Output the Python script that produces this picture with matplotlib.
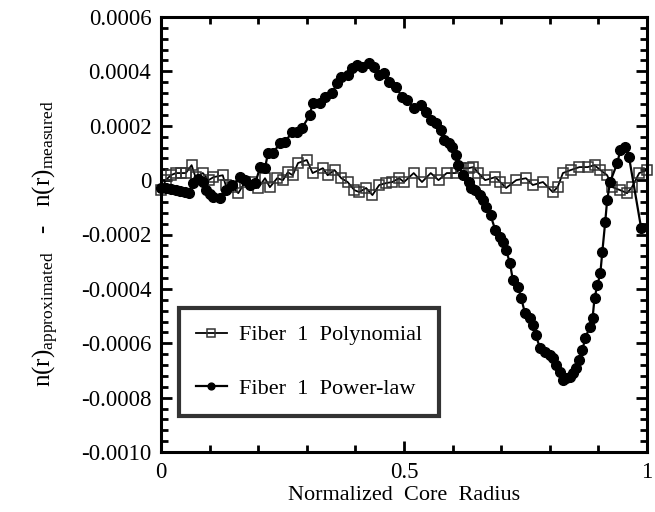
import matplotlib
matplotlib.use("Agg")
import matplotlib.pyplot as plt
from matplotlib.ticker import FixedLocator, FixedFormatter, MultipleLocator
import numpy as np

# ---------------- data ----------------
poly_x = [0.000, 0.010, 0.020, 0.031, 0.041, 0.051, 0.063, 0.071, 0.086, 0.098,
          0.108, 0.127, 0.133, 0.147, 0.159, 0.173, 0.188, 0.200, 0.214, 0.224,
          0.239, 0.251, 0.261, 0.271, 0.282, 0.300, 0.312, 0.333, 0.343, 0.357,
          0.371, 0.384, 0.398, 0.408, 0.422, 0.435, 0.449, 0.463, 0.476, 0.490,
          0.500, 0.520, 0.537, 0.555, 0.571, 0.588, 0.606, 0.618, 0.633, 0.643,
          0.653, 0.667, 0.688, 0.698, 0.710, 0.731, 0.751, 0.765, 0.786, 0.806,
          0.816, 0.827, 0.843, 0.861, 0.878, 0.892, 0.904, 0.918, 0.929, 0.945,
          0.959, 0.969, 0.984, 1.000]
poly_y = [-0.37, 0.00, 0.18, 0.26, 0.26, 0.26, 0.55, 0.11, 0.26, 0.00,
          0.11, 0.18, -0.18, -0.26, -0.48, -0.07, -0.07, -0.29, 0.07, -0.26,
          0.07, 0.00, 0.29, 0.18, 0.63, 0.74, 0.26, 0.44, 0.18, 0.37,
          0.07, -0.07, -0.37, -0.44, -0.29, -0.55, -0.18, -0.11, -0.07, 0.07,
          -0.07, 0.26, -0.07, 0.26, 0.00, 0.26, 0.26, 0.44, 0.44, 0.48,
          0.26, 0.00, 0.11, -0.07, -0.29, 0.00, 0.07, -0.18, -0.07, -0.44,
          -0.26, 0.26, 0.37, 0.48, 0.48, 0.55, 0.37, 0.18, -0.26, -0.37,
          -0.48, -0.26, 0.26, 0.37]   # units of 1e-4

power_x = [0.000, 0.010, 0.020, 0.030, 0.040, 0.050, 0.057, 0.065, 0.076, 0.086,
           0.092, 0.100, 0.108, 0.122, 0.133, 0.147, 0.163, 0.173, 0.184, 0.194,
           0.204, 0.214, 0.220, 0.230, 0.245, 0.255, 0.270, 0.280, 0.290, 0.306,
           0.312, 0.327, 0.337, 0.351, 0.363, 0.371, 0.384, 0.394, 0.404, 0.414,
           0.429, 0.439, 0.449, 0.459, 0.469, 0.484, 0.496, 0.506, 0.520, 0.535,
           0.545, 0.555, 0.565, 0.576, 0.582, 0.592, 0.598, 0.606, 0.612, 0.622,
           0.633, 0.637, 0.647, 0.657, 0.663, 0.669, 0.678, 0.688, 0.698, 0.704,
           0.710, 0.718, 0.724, 0.735, 0.741, 0.749, 0.759, 0.765, 0.771, 0.780,
           0.790, 0.800, 0.806, 0.812, 0.820, 0.827, 0.833, 0.841, 0.847, 0.853,
           0.861, 0.867, 0.873, 0.882, 0.888, 0.892, 0.898, 0.904, 0.908, 0.914,
           0.918, 0.924, 0.939, 0.945, 0.955, 0.963, 0.988]
power_y = [-0.29, -0.30, -0.33, -0.36, -0.40, -0.44, -0.48, -0.11, 0.05, -0.07,
           -0.37, -0.50, -0.63, -0.66, -0.37, -0.18, 0.11, 0.00, -0.18, -0.11,
           0.48, 0.44, 0.99, 0.99, 1.36, 1.40, 1.77, 1.77, 1.91, 2.39,
           2.83, 2.83, 3.05, 3.20, 3.57, 3.79, 3.86, 4.12, 4.23, 4.16,
           4.30, 4.16, 3.86, 3.94, 3.60, 3.42, 3.05, 2.94, 2.65, 2.76,
           2.50, 2.21, 2.10, 1.84, 1.47, 1.36, 1.21, 0.92, 0.55, 0.18,
           -0.07, -0.29, -0.37, -0.55, -0.74, -0.99, -1.29, -1.84, -2.10, -2.28,
           -2.57, -3.05, -3.68, -3.94, -4.34, -4.89, -5.08, -5.33, -5.70, -6.18,
           -6.33, -6.44, -6.55, -6.80, -7.06, -7.36, -7.28, -7.25, -7.10, -6.91,
           -6.62, -6.25, -5.81, -5.41, -5.08, -4.34, -3.86, -3.42, -2.65, -1.54,
           -0.74, -0.07, 0.63, 1.10, 1.21, 0.85, -1.77]   # units of 1e-4

series_labels = ["Fiber  1  Polynomial", "Fiber  1  Power-law"]
x_ticks = [0, 0.5, 1]
x_tick_labels = ["0", "0.5", "1"]
y_ticks = [0.0006, 0.0004, 0.0002, 0.0, -0.0002, -0.0004, -0.0006, -0.0008, -0.0010]
y_tick_labels = ["0.0006", "0.0004", "0.0002", "0", "-0.0002", "-0.0004",
                 "-0.0006", "-0.0008", "-0.0010"]
x_label = "Normalized  Core  Radius"
y_label = r"n(r)$_{\mathrm{approximated}}$   -   n(r)$_{\mathrm{measured}}$"

# ---------------- style ----------------
plt.rcParams["font.family"] = ["Liberation Serif", "DejaVu Serif"]
plt.rcParams["mathtext.fontset"] = "custom"
plt.rcParams["mathtext.rm"] = "Liberation Serif"
plt.rcParams["mathtext.it"] = "Liberation Serif:italic"

fig = plt.figure(figsize=(6.55, 5.12), dpi=100)
ax = fig.add_axes([161 / 655, 1 - 452 / 512, 486 / 655, 435 / 512])

scale = 1e-4
ax.plot(poly_x, np.array(poly_y) * scale, color="black", lw=1.3,
        marker="s", ms=7.5, mfc="none", mec="#333333", mew=1.1,
        label=series_labels[0], zorder=2, clip_on=False)
ax.plot(power_x, np.array(power_y) * scale, color="black", lw=1.6,
        marker="o", ms=7, mfc="black", mec="black",
        label=series_labels[1], zorder=3, clip_on=False)

ax.set_xlim(0, 1)
ax.set_ylim(-0.0010, 0.0006)

ax.xaxis.set_major_locator(FixedLocator(x_ticks))
ax.xaxis.set_major_formatter(FixedFormatter(x_tick_labels))
ax.xaxis.set_minor_locator(MultipleLocator(0.1))
ax.yaxis.set_major_locator(FixedLocator(y_ticks))
ax.yaxis.set_major_formatter(FixedFormatter(y_tick_labels))
ax.yaxis.set_minor_locator(MultipleLocator(0.00004))

ax.tick_params(which="both", direction="in", top=True, right=True,
               width=2, labelsize=16.5, pad=7)
ax.tick_params(which="major", length=8)
ax.tick_params(which="minor", length=5)
for s in ax.spines.values():
    s.set_linewidth(2.2)

ax.set_xlabel(x_label, fontsize=16, labelpad=2)
ax.set_ylabel(y_label, fontsize=18)
ax.yaxis.set_label_coords(-0.205, 0.48)

handles, labels = ax.get_legend_handles_labels()
leg = ax.legend(handles, labels, loc="lower left",
                bbox_to_anchor=(0.037, 0.083), borderaxespad=0,
                fontsize=16, frameon=True, fancybox=False, edgecolor="black",
                borderpad=0.75, labelspacing=1.5, handlelength=1.4,
                handletextpad=0.55, markerscale=0.7)
leg.get_frame().set_linewidth(3)

fig.savefig("out.png", dpi=100)
